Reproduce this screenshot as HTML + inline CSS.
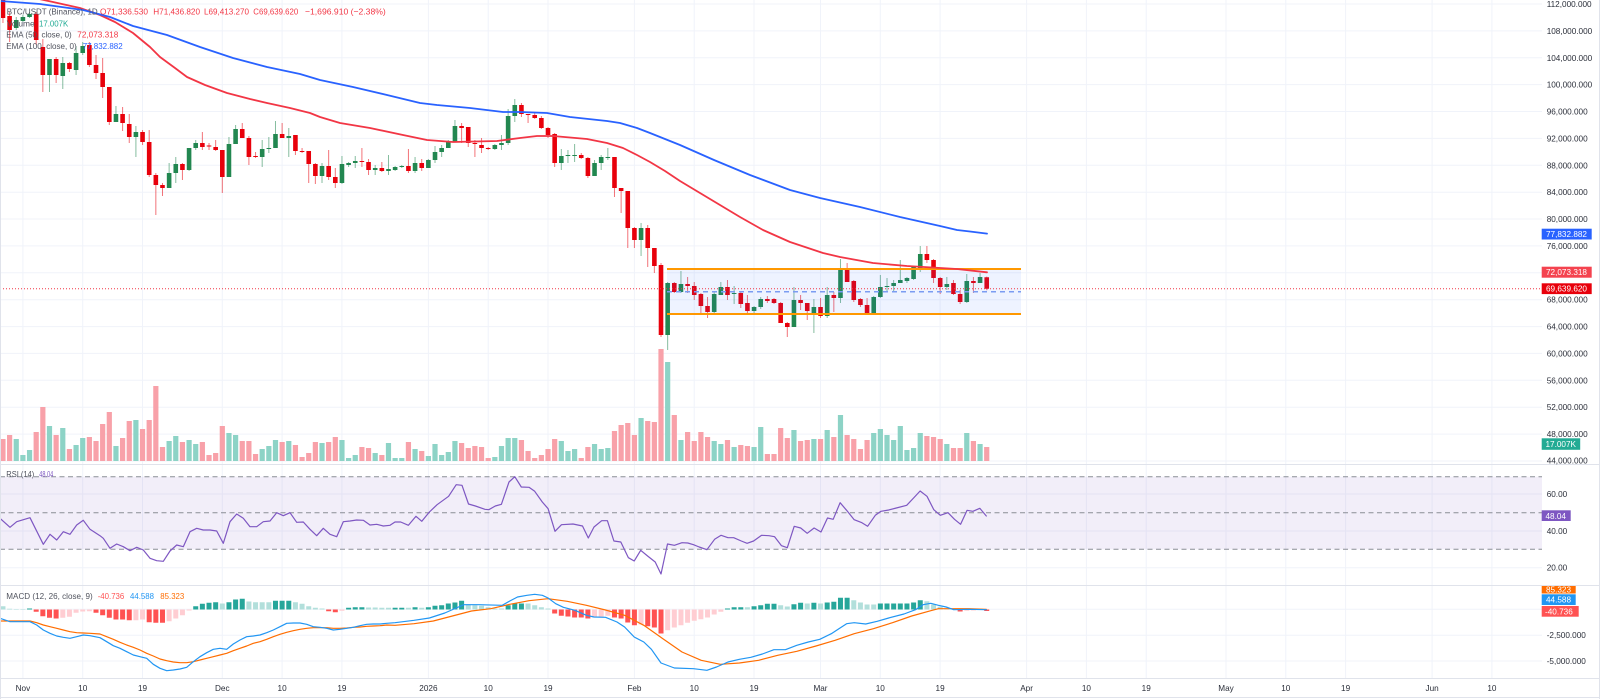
<!DOCTYPE html>
<html><head><meta charset="utf-8">
<style>
html,body{margin:0;padding:0;background:#fff;overflow:hidden;}
svg{display:block;font-family:"Liberation Sans",sans-serif;}
.ax{font-size:8.2px;fill:#2a2e39;}
.lg{font-size:8.6px;}
</style></head>
<body>
<svg id="c" width="1600" height="699" viewBox="0 0 1600 699" xmlns="http://www.w3.org/2000/svg">
<rect width="1600" height="699" fill="#fff"/>
<g id="grid" stroke="#f0f3fa" stroke-width="1" fill="none"></g>
<!-- RSI band -->
<rect x="0" y="476.7" width="1542" height="72.6" fill="rgba(126,87,194,0.1)"/>
<g stroke="#8a8d96" stroke-width="1" stroke-dasharray="5 3.5">
<line x1="0" y1="476.7" x2="1542" y2="476.7"/>
<line x1="0" y1="512.7" x2="1542" y2="512.7"/>
<line x1="0" y1="549.3" x2="1542" y2="549.3"/>
</g>
<g id="vol"></g>
<g id="hist"></g>
<g id="cand"></g>
<!-- range box -->
<rect x="667" y="269" width="354" height="45" fill="rgba(41,98,255,0.08)"/>
<line x1="667" y1="291.7" x2="1021" y2="291.7" stroke="#7b9cf2" stroke-width="1.5" stroke-dasharray="5 4"/>
<line x1="667" y1="269" x2="1021" y2="269" stroke="#ff9800" stroke-width="2"/>
<line x1="667" y1="314" x2="1021" y2="314" stroke="#ff9800" stroke-width="2"/>
<line x1="0" y1="288.7" x2="1542" y2="288.7" stroke="#f23645" stroke-width="1" stroke-dasharray="1 2"/>
<g id="lines" fill="none" stroke-linejoin="round" stroke-linecap="round"></g>
<!-- pane separators & frame -->
<g stroke="#e0e3eb" stroke-width="1">
<line x1="0" y1="464.5" x2="1600" y2="464.5"/>
<line x1="0" y1="585.5" x2="1600" y2="585.5"/>
<line x1="0" y1="678.5" x2="1600" y2="678.5"/>
<line x1="0.5" y1="0" x2="0.5" y2="699"/>
<line x1="1599.5" y1="0" x2="1599.5" y2="699"/>
<line x1="0" y1="697.5" x2="1600" y2="697.5"/>
</g>
<!-- Legend -->
<g class="lg">
<text x="6.7" y="14.5" fill="#50535e" textLength="91" lengthAdjust="spacingAndGlyphs">BTC/USDT (Binance), 1D</text>
<text x="100" y="14.5" fill="#f23645" textLength="48" lengthAdjust="spacingAndGlyphs">O71,336.530</text>
<text x="153.3" y="14.5" fill="#f23645" textLength="46.7" lengthAdjust="spacingAndGlyphs">H71,436.820</text>
<text x="204" y="14.5" fill="#f23645" textLength="45" lengthAdjust="spacingAndGlyphs">L69,413.270</text>
<text x="253.3" y="14.5" fill="#f23645" textLength="45" lengthAdjust="spacingAndGlyphs">C69,639.620</text>
<text x="305" y="14.5" fill="#f23645">−1,696.910 (−2.38%)</text>
<text x="6.7" y="26.5" fill="#50535e" textLength="28" lengthAdjust="spacingAndGlyphs">Volume</text>
<text x="39" y="26.5" fill="#22ab94" textLength="29.3" lengthAdjust="spacingAndGlyphs">17.007K</text>
<text x="6.3" y="37.6" fill="#50535e" textLength="65.4" lengthAdjust="spacingAndGlyphs">EMA (50, close, 0)</text>
<text x="77.3" y="37.6" fill="#f23645" textLength="41" lengthAdjust="spacingAndGlyphs">72,073.318</text>
<text x="6.3" y="49" fill="#50535e" textLength="70.4" lengthAdjust="spacingAndGlyphs">EMA (100, close, 0)</text>
<text x="82.7" y="49" fill="#2962ff" textLength="40" lengthAdjust="spacingAndGlyphs">77,832.882</text>
<text x="6.3" y="477.2" fill="#50535e" textLength="28" lengthAdjust="spacingAndGlyphs">RSI (14)</text>
<text x="39.3" y="477.2" fill="#7e57c2" textLength="14" lengthAdjust="spacingAndGlyphs">48.04</text>
<text x="6.3" y="599" fill="#50535e" textLength="86.4" lengthAdjust="spacingAndGlyphs">MACD (12, 26, close, 9)</text>
<text x="97.7" y="599" fill="#ff5252" textLength="26.6" lengthAdjust="spacingAndGlyphs">-40.736</text>
<text x="130" y="599" fill="#2196f3" textLength="24" lengthAdjust="spacingAndGlyphs">44.588</text>
<text x="160.3" y="599" fill="#ff6d00" textLength="24" lengthAdjust="spacingAndGlyphs">85.323</text>
</g>
<!-- Price axis -->
<g class="ax">
<text x="1546.7" y="7">112,000.000</text>
<text x="1546.7" y="33.9">108,000.000</text>
<text x="1546.7" y="60.8">104,000.000</text>
<text x="1546.7" y="87.6">100,000.000</text>
<text x="1546.7" y="114.5">96,000.000</text>
<text x="1546.7" y="141.4">92,000.000</text>
<text x="1546.7" y="168.3">88,000.000</text>
<text x="1546.7" y="195.2">84,000.000</text>
<text x="1546.7" y="222">80,000.000</text>
<text x="1546.7" y="248.9">76,000.000</text>
<text x="1546.7" y="302.7">68,000.000</text>
<text x="1546.7" y="329.6">64,000.000</text>
<text x="1546.7" y="356.4">60,000.000</text>
<text x="1546.7" y="383.3">56,000.000</text>
<text x="1546.7" y="410.2">52,000.000</text>
<text x="1546.7" y="437.1">48,000.000</text>
<text x="1546.7" y="463.5">44,000.000</text>
<text x="1546.7" y="497">60.00</text>
<text x="1546.7" y="534">40.00</text>
<text x="1546.7" y="570.7">20.00</text>
<text x="1546.7" y="638.2">-2,500.000</text>
<text x="1546.7" y="664">-5,000.000</text>
</g>
<!-- axis value labels -->
<rect x="1541.7" y="228.7" width="50" height="10.8" fill="#2962ff"/>
<text x="1546" y="237" class="ax" fill="#fff" style="fill:#fff">77,832.882</text>
<rect x="1541.7" y="266.7" width="50" height="11" fill="#f4434f"/>
<text x="1546" y="275.2" class="ax" style="fill:#fff">72,073.318</text>
<rect x="1541.7" y="283.3" width="50" height="10.8" fill="#e8000b"/>
<text x="1546" y="291.7" class="ax" style="fill:#fff">69,639.620</text>
<rect x="1541.7" y="438.3" width="38.5" height="11.5" fill="#22ab94"/>
<text x="1545.5" y="447" class="ax" style="fill:#fff">17.007K</text>
<rect x="1541.7" y="510.3" width="29" height="10.7" fill="#7e57c2"/>
<text x="1545.5" y="518.8" class="ax" style="fill:#fff">48.04</text>
<rect x="1541.7" y="586" width="34" height="7.5" fill="#ff6d00"/>
<text x="1546" y="592.5" class="ax" style="fill:#fff">85.323</text>
<rect x="1541.7" y="594.3" width="34" height="10.7" fill="#2196f3"/>
<text x="1546" y="602.7" class="ax" style="fill:#fff">44.588</text>
<rect x="1541.7" y="606" width="37" height="10.7" fill="#ff5252"/>
<text x="1545" y="614.4" class="ax" style="fill:#fff">-40.736</text>
<!-- Time axis -->
<g class="ax" text-anchor="middle">
<text x="22.9" y="691">Nov</text>
<text x="82.7" y="691">10</text>
<text x="142.5" y="691">19</text>
<text x="222.3" y="691">Dec</text>
<text x="282.1" y="691">10</text>
<text x="341.9" y="691">19</text>
<text x="428.4" y="691">2026</text>
<text x="488.2" y="691">10</text>
<text x="548" y="691">19</text>
<text x="634.4" y="691">Feb</text>
<text x="694.2" y="691">10</text>
<text x="754" y="691">19</text>
<text x="820.5" y="691">Mar</text>
<text x="880.3" y="691">10</text>
<text x="940.1" y="691">19</text>
<text x="1026.6" y="691">Apr</text>
<text x="1086.4" y="691">10</text>
<text x="1146.2" y="691">19</text>
<text x="1226" y="691">May</text>
<text x="1285.8" y="691">10</text>
<text x="1345.6" y="691">19</text>
<text x="1432.1" y="691">Jun</text>
<text x="1491.9" y="691">10</text>
</g>
</svg>
<script>
(function(){
var NS='http://www.w3.org/2000/svg';
function X(d){return 22.9+6.647*d;}
function add(p,tag,a){var e=document.createElementNS(NS,tag);for(var k in a)e.setAttribute(k,a[k]);p.appendChild(e);return e;}
var grid=document.getElementById('grid');
// horizontal grid main
for(var k=0;k<=17;k++){var y=(4+k*26.88).toFixed(1);add(grid,'line',{x1:0,y1:y,x2:1542,y2:y});}
[494,531,567.7,609.3,635.2,661].forEach(function(y){add(grid,'line',{x1:0,y1:y,x2:1542,y2:y});});
[22.9,82.7,142.5,222.3,282.1,341.9,428.4,488.2,548,634.4,694.2,754,820.5,880.3,940.1,1026.6,1086.4,1146.2,1226,1285.8,1345.6,1432.1,1491.9].forEach(function(x){add(grid,'line',{x1:x,y1:0,x2:x,y2:678});});

var C=[
[-3,'r',0,18,-3,23],[-2,'r',16,30,12,42],[-1,'g',20,28,17,30],[0,'g',17,21,15,22],[1,'g',14,17,12,18],[2,'r',14,40,12,45],
[3,'r',47,75,39,92],[4,'g',59,75,59,92],[5,'r',59,75,57,83],[6,'g',63,76,57,89],[7,'r',63,69,62,72],[8,'g',53,70,46,75],
[9,'g',46,53,42,55],[10,'r',45,65,42,67],[11,'r',65,73,55,79],[12,'r',73,87,58,98],[13,'r',87,122,87,125],[14,'g',114,122,106,122],
[15,'r',114,123,107,131],[16,'r',124,137,114,143],[17,'g',132,137,126,157],[18,'r',132,142,130,145],[19,'r',142,175,130,177],
[20,'r',175,185,173,215],[21,'r',185,188,183,196],[22,'g',173,188,163,188],[23,'g',164,173,157,183],[24,'r',164,170,163,180],
[25,'g',148,170,148,171],[26,'g',143,148,140,150],[27,'r',143,147,132,150],[28,'r',145.5,146.5,143,150],[29,'r',147,150,140,151],
[30,'r',150,177,150,193],[31,'g',144,177,137,177],[32,'g',129,144,125,144],[33,'r',129,138,123,138],[34,'r',138,157,136,165],
[35,'r',156,157,152,158],[36,'g',149,157,140,167],[37,'g',148,149,137,153],[38,'g',134,148,121,148],[39,'r',134,138,123,138],
[40,'g',136,138,128,157],[41,'r',135,151,135,155],[42,'r',151,152,148,153],[43,'r',151,164,151,183],[44,'r',164,176,163,184],
[45,'g',166,176,163,183],[46,'r',166,177,150,180],[47,'r',177,183,168,188],[48,'g',164,183,156,184],[49,'g',163,165,162,167],
[50,'g',161,163,156,168],[51,'r',161,162,148,167],[52,'r',162,170,159,175],[53,'g',168,170,165,175],[54,'r',168,171,162,172],
[55,'g',169,171,155,175],[56,'g',167,170,166,171],[57,'g',166,167,165,168],[58,'r',166,171,149,173],[59,'g',163,171,157,173],
[60,'r',163,168,159,171],[61,'g',160,168,159,168],[62,'g',152,160,146,163],[63,'g',148,152,145,157],[64,'g',142,148,140,148],
[65,'g',126,142,120,142],[66,'r',126,128,123,143],[67,'r',127,143,127,147],[68,'r',143,144,140,157],[69,'r',145,148,138,153],
[70,'r',148,149,147,150],[71,'g',145,149,144,150],[72,'g',143,145,135,150],[73,'g',116,143,109,145],[74,'g',105,116,99,122],
[75,'r',105,114,103,117],[76,'r',114,115,114,123],[77,'r',115,118,113,119],[78,'r',118,128,116,129],[79,'r',128,135,127,138],
[80,'r',134,163,133,167],[81,'g',156,163,149,170],[82,'g',155,156,150,163],[83,'g',155,156,144,162],[84,'r',155,158,153,159],
[85,'r',158,176,157,178],[86,'g',163,176,160,176],[87,'g',157,163,155,170],[88,'g',157,158,148,160],[89,'r',157,188,157,197],
[90,'r',188,191,188,213],[91,'r',191,228,191,248],[92,'r',228,240,227,248],[93,'g',228,240,223,256],[94,'r',228,248,225,267],
[95,'r',248,266,248,273],[96,'r',265,335,263,337],[97,'g',283,335,282,350],[98,'r',283,292,282,293],[99,'g',284,292,271,293],
[100,'r',284,286,277,293],[101,'r',286,295,282,300],[102,'r',294,306,293,315],[103,'r',306,312,297,318],[104,'g',294,312,292,313],
[105,'g',287,295,282,295],[106,'r',287,295,280,300],[107,'g',293,294,286,304],[108,'r',293,304,292,308],[109,'r',303,311,295,313],
[110,'g',307,311,306,315],[111,'g',299,307,297,309],[112,'r',299,301,296,303],[113,'r',299,303,298,304],[114,'r',303,323,302,323],
[115,'r',323,327,322,337],[116,'g',300,327,287,327],[117,'r',300,303,295,310],[118,'r',303,311,303,320],[119,'g',307,315,299,333],
[120,'r',307,316,298,318],[121,'g',295,316,287,318],[122,'r',295,298,292,312],[123,'g',269,298,259,303],[124,'r',269,282,263,282],
[125,'r',281,300,280,302],[126,'r',299,305,298,307],[127,'r',305,314,298,315],[128,'g',297,314,296,314],[129,'g',287,297,275,298],
[130,'g',286,287,278,292],[131,'g',283,286,280,292],[132,'g',280,283,260,283],[133,'g',278,281,277,283],[134,'g',267,279,266,280],
[135,'g',254,268,246,272],[136,'r',254,260,246,263],[137,'r',260,278,259,283],[138,'r',278,287,277,294],[139,'g',284,287,277,290],
[140,'r',283,294,280,295],[141,'r',294,302,290,304],[142,'g',281,302,274,303],[143,'r',281,283,277,293],[144,'g',277,283,273,283],
[145,'r',277.3,288.7,276.6,290.2]];
var col={};
var gb='',rb='',gw='',rw='';
C.forEach(function(c){
 var d=c[0],x=X(d);col[d]=c[1];
 var bt=c[2],bb=c[3];if(bb-bt<1){bb=bt+1;}
 var b='M'+(x-2.3).toFixed(2)+' '+bt+'h4.6V'+bb+'h-4.6Z';
 var w='M'+x.toFixed(2)+' '+c[4]+'V'+c[5];
 if(c[1]=='g'){gb+=b;gw+=w;}else{rb+=b;rw+=w;}
});
var cg=document.getElementById('cand');
add(cg,'path',{d:gw,stroke:'#228750','stroke-opacity':'0.55','stroke-width':'1'});
add(cg,'path',{d:rw,stroke:'#e8000b','stroke-opacity':'0.55','stroke-width':'1'});
add(cg,'path',{d:gb,fill:'#228750'});
add(cg,'path',{d:rb,fill:'#e8000b'});

var V="-3:439,-2:435,-1:439,0:455,1:450,2:432,3:407,4:426,5:435,6:428,7:449,8:445,9:438,10:437,11:441,12:424,13:412,14:446,15:438,16:421,17:420,18:429,19:420,20:386,21:447,22:441,23:436,24:442,25:440,26:444,27:442,28:455,29:453,30:426,31:433,32:435,33:441,34:441,35:454,36:449,37:446,38:440,39:442,40:441,41:445,42:457,43:453,44:442,45:443,46:442,47:437,48:440,49:458,50:455,51:447,52:448,53:453,54:455,55:443,56:458,57:458,58:442,59:449,60:451,61:456,62:444,63:455,64:452,65:441,66:443,67:448,68:446,69:447,70:458,71:457,72:446,73:438,74:438,75:440,76:451,77:458,78:455,79:449,80:439,81:441,82:451,83:449,84:458,85:447,86:444,87:449,88:448,89:431,90:425,91:423,92:435,93:418,94:421,95:422,96:349,97:362,98:415,99:440,100:432,101:441,102:432,103:437,104:441,105:444,106:440,107:447,108:445,109:446,110:447,111:427,112:454,113:454,114:428,115:438,116:430,117:441,118:440,119:439,120:439,121:430,122:437,123:415,124:435,125:439,126:449,127:440,128:433,129:429,130:435,131:440,132:426,133:450,134:448,135:433,136:436,137:437,138:439,139:444,140:448,141:448,142:433,143:441,144:444,145:447";
var vg='',vr='';
V.split(',').forEach(function(s){var p=s.split(':');var d=+p[0],t=+p[1];var x=X(d);
 var r='M'+(x-2.6).toFixed(2)+' '+t+'h5.2V461h-5.2Z';
 if(col[d]=='g')vg+=r;else vr+=r;});
var vgp=document.getElementById('vol');
add(vgp,'path',{d:vg,fill:'#8dd3c6'});
add(vgp,'path',{d:vr,fill:'#f8a1a9'});

var H="-3g3.3 -2g.7 -1g.5 0g.5 1G1 2R-2.3 3R-6.7 4R-8.3 5R-9 6r-8.3 7r-7.3 8r-3.3 9r-2 10r-1.7 11R-3.3 12R-5.7 13R-8.3 14R-10 15R-10 16R-10.7 17r-10.7 18r-10 19R-12.7 20R-13.3 21R-13.3 22r-11.7 23r-9 24r-5.7 25r-1 26G3.3 27G5.7 28G6.7 29G7.3 30g6 31G7.3 32G10 33G10.7 34g8 35g7.3 36g7.3 37g7.3 38G8.7 39G8.7 40G8.7 41g7.3 42g5.7 43g3.3 44g1.7 45g1 46R-1.7 47R-2.7 48r-1.3 49G1.7 50G2.3 51G2.3 52g2 53g2 54g1.7 55g1.7 56G1.7 57G1.7 58g1.7 59G2.3 60g1.7 61G2.3 62G3.7 63G4.3 64G6 65G7 66G8.7 67g5 68g4.3 69g3.7 70g2.3 71g1 72g1 73G4.3 74G6 75G6 76g6 77g4.3 78g2.3 79g1 80R-4 81R-6.3 82R-7 83R-8 84R-8 85R-9 86r-8 87r-7.3 88r-6.3 89R-8 90R-9 91R-13 92R-15.7 93r-15 94R-16.7 95R-18 96R-24 97r-20.7 98r-18 99r-15.7 100r-13.3 101r-11.3 102r-9.7 103r-8 104r-5 105r-2.3 106G1 107G2.3 108G2.3 109g2.3 110G3.3 111G4.3 112G5.7 113G5.7 114g4.3 115g3 116G5.3 117G6.7 118g6 119G6.7 120g6 121G7 122G7.7 123G11.7 124G11.7 125g9.3 126g7 127g5 128g5 129G6 130G6 131G6 132G6 133G6 134G7 135G9.3 136g8.3 137g5 138g2.7 139g1 140g.7 141R-2 142r-1.3 143r-1 144g.7 145R-1.5";
var hc={G:'',g:'',R:'',r:''};var Z=609.5;
H.split(' ').forEach(function(s){var m=s.match(/^(-?\d+)([gGrR])(-?[\d.]+)$/);if(!m)return;
 var d=+m[1],c=m[2],v=+m[3];var x=X(d);var y0,y1;
 if(v>0){y0=Z-v;y1=Z;}else{y0=Z;y1=Z-v;}
 hc[c]+='M'+(x-2.5).toFixed(2)+' '+y0.toFixed(2)+'h5V'+y1.toFixed(2)+'h-5Z';});
var hg=document.getElementById('hist');
add(hg,'path',{d:hc.G,fill:'#26a69a'});add(hg,'path',{d:hc.g,fill:'#b2dfdb'});
add(hg,'path',{d:hc.R,fill:'#ff5252'});add(hg,'path',{d:hc.r,fill:'#ffcdd2'});

var lg=document.getElementById('lines');
function pl(pts,color,w){add(lg,'polyline',{points:pts,stroke:color,'stroke-width':w});}
pl("0,-10 30,-3 53,2 80,8 100,15 115,22 133,33 150,47 160,57 175,68 187,77 205,85 227,93 250,99 267,103 290,108 310,113 320,117 340,123 370,128 403,135 427,140 453,142 497,141 520,138 537,136 553,136 587,139 607,143 623,148 637,155 650,162 665,171 680,181 700,193 720,205 740,217 763,230 790,242 823,253 840,257 873,263 907,266 957,269 987,272.3",'#f23645',1.8);
pl("0,1 40,4 83,10 110,17 133,26 167,35 200,47 233,58 267,67 300,74 320,80 353,87 387,95 420,103 437,105 470,108 503,112 520,112 547,113 570,117 607,121 620,123 637,128 650,133 680,145 714,160 750,175 790,190 820,198 860,207 900,217 940,226 957,230 970,231.5 987,233.6",'#2962ff',1.8);
// RSI
pl("0,518.3 10,527.3 16.7,521.7 30,517.7 43.3,544.3 50,534.3 56.7,540 63.3,531.7 70,534.3 76.7,525 83.3,520.3 90,529.3 100,535.7 103.3,538.3 110,548.3 116.7,544 123.3,546.7 130,550.7 136.7,547.3 143.3,550 150,558.3 156.7,560.7 163.3,561.3 170,551 176.7,545 183.3,546.7 190,531.7 196.7,528.3 203.3,530 210,530 216.7,531 223.3,543.3 230,521.7 236.7,514 243.3,518.3 250,526.7 256.7,526.7 263.3,521.7 270,521 276.7,512.7 283.3,515.7 290,512.7 296.7,522.3 303.3,522 310,529.3 316.7,535.7 323.3,528.3 330,534.3 336.7,536.7 343.3,521.7 350,521 356.7,520 363.3,520.3 370,525 376.7,524.3 383.3,526 390,525.3 395,522 400.7,522 408.4,525.3 416,516.3 421.8,521.3 429.4,512 437.1,504.7 448.6,496.3 456.2,484.7 462,485.3 468.5,504 475.4,506 484.9,509.3 488.8,509.7 495.3,506 501.4,504.3 509,482 514.8,476.7 521.3,487 529,487.3 534.7,491.3 542.3,502 548.1,508.7 555,531.3 561.5,524.7 573,524 582.5,526 588.3,538 594,527 601.7,520.7 607.4,520.7 613.9,541 620.8,542 628.4,557.7 634.2,561 640.7,550.3 647.6,556 655.2,562 661,574 667.5,544 674.4,545.3 682,542.7 687.8,543 693.5,544.7 699.2,547 706.9,549.7 714.6,539.3 721.1,535.3 728,537.7 733.7,537.7 741.3,541 747.1,543.3 753.6,541 761.6,535.3 768.9,535.7 774.6,536.7 781.5,545.7 787.3,547.7 794.2,526.3 800.7,528 807.2,533.3 814.1,528 821,532 827.5,518 833.2,519.3 840.1,502.7 846.6,510.3 854.2,519.7 861.9,522.7 867.6,526.3 875.3,515.3 881,511.3 888.7,510 896.3,508 906.7,505.3 913.6,498 920.1,491 927,496.3 933.8,509.7 940.3,515.3 948,512.7 954.5,519.3 960.6,524.3 967.1,510.3 972.9,511.3 979.8,508.3 986.3,516",'#7e57c2',1.2);
// MACD signal
pl("0,621 30,621 36.7,622.7 43.3,625 50,626.7 56.7,628.3 63.3,630 70,631.7 76.7,632.7 83.3,633 90,633.3 100,634 106.7,636.7 113.3,639.3 120,642.3 126.7,645 133.3,647.3 140,650 146.7,653.3 153.3,656 160,659 166.7,660.7 173.3,662 180,662.7 186.7,662.7 193.3,661.7 200,660 206.7,658.3 213.3,656.7 220,655 226.7,653.3 233.3,650.7 240,648.3 246.7,646 253.3,643.3 260,641.7 266.7,639.3 273.3,636.7 280,634.3 286.7,632.3 293.3,630.7 300,629.3 306.7,628.3 313.3,627.7 320,627.7 326.7,627.7 333.3,628.3 340,628.3 346.7,628 353.3,627.3 360,627 366.7,626.3 373.3,626 380,625.7 386.7,625 395,625.3 414.1,623.7 433.3,621 452.4,616 471.5,611 490.7,608.7 509.8,604.3 529,600.7 548.1,598.7 567.2,601.3 586.4,605.3 605.5,610 624.6,615.3 643.8,625.3 662.9,638.7 682,652 701.2,660.3 720.3,664.3 739.4,663 758.6,660.3 777.7,655.3 796.8,651.3 816,646 835.1,640.3 854.2,633.7 873.4,628.7 892.5,622.7 911.7,616 930.8,610.7 938.4,608.7 953.7,608.7 969,608.7 986.3,609.3",'#ff6d00',1.2);
// MACD line
pl("0,618.3 10,621.7 20,621.7 30,621.7 36.7,625 43.3,630 50,633.3 56.7,636 63.3,637.3 70,638.3 76.7,636.7 83.3,635 90,635.7 100,637.7 106.7,641.7 113.3,645.7 120,648.3 126.7,651.7 133.3,655 140,656.7 146.7,658.3 153.3,664.3 160,668.3 166.7,670.7 173.3,670 180,669 186.7,667.3 193.3,661.7 200,656.7 206.7,652.7 213.3,649.3 220,648.3 226.7,649.3 233.3,644 240,640 246.7,636.7 253.3,636 260,635 266.7,632.7 273.3,630 280,626.7 286.7,623.3 293.3,623 300,623 306.7,624.3 313.3,626.7 320,627.3 326.7,628.3 333.3,630 340,629.3 346.7,628.3 353.3,627.3 360,625.7 366.7,624.3 373.3,624 380,624 386.7,623.3 395,622.7 414.1,620.3 429.4,618 444.8,613 456.2,608 463.9,604.7 479.2,604.7 502.2,605.3 509.8,601 517.5,597 527,595.3 534.7,594.3 542.3,595.3 548.1,598 555.7,603.7 563.4,607.3 574.9,610.3 586.4,615.3 594,617 605.5,617.3 617,622 624.6,627 634.2,637 643.8,642 651.4,649.3 661,663 674.4,668 693.5,668.7 706.9,670.3 716.5,667 728,662 739.4,659.3 750.9,657.3 762.4,654 773.9,649.7 785.4,649.7 796.8,645.3 808.3,642 819.8,639.3 831.3,633.7 838.9,628.7 846.6,623.7 854.2,622.7 865.7,624 877.2,621.3 888.7,618 904,614 915.5,609.7 923.1,604.7 930.8,603.3 938.4,605.3 946.1,607 953.7,609.7 969,609.3 986.3,609.7",'#2196f3',1.2);
})();
</script>
</body></html>
